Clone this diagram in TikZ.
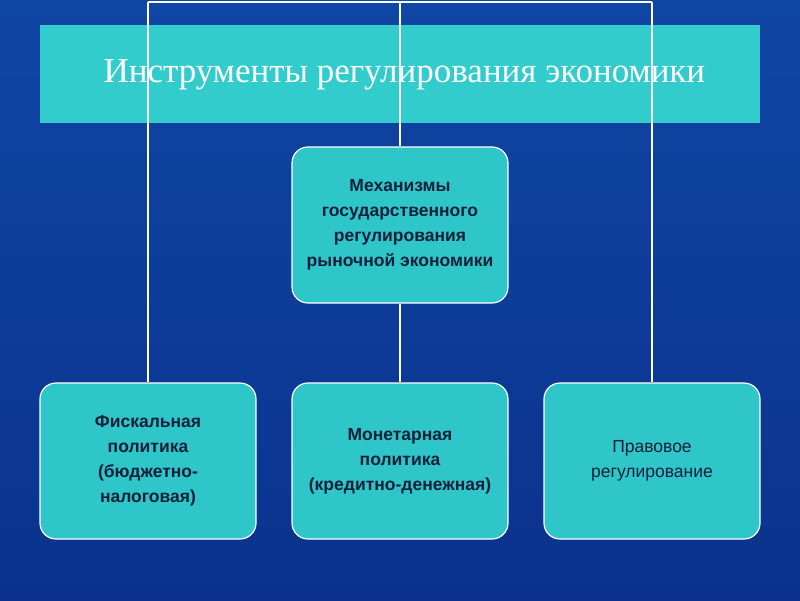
\documentclass[tikz,border=0pt]{standalone}
\usepackage{fontspec}
\setmainfont{Liberation Sans}
\newfontfamily\titlefont{Liberation Serif}
\begin{document}
\begin{tikzpicture}[x=1pt,y=-1pt,
  box/.style={draw=white,line width=1.2pt,fill=boxc,rounded corners=16pt,minimum width=216pt,minimum height=156pt,align=center,text=txtc,font=\bfseries\fontsize{17.5}{25}\selectfont},
  wline/.style={draw=white,line width=1.3pt}]
\definecolor{boxc}{HTML}{2EC6C8}
\definecolor{txtc}{HTML}{10203A}
\definecolor{banc}{HTML}{33CCCC}
\useasboundingbox (0,0) rectangle (800,600);
\shade[top color={rgb,255:red,16;green,70;blue,165},middle color={rgb,255:red,36;green,125;blue,225},bottom color={rgb,255:red,10;green,50;blue,140}] (0,0) rectangle (800,600);
\fill[banc] (40,25) rectangle (760,123);
\node[text=white,font=\titlefont\fontsize{35}{40}\selectfont,anchor=west] (title) at (100,75) {Инструменты регулирования экономики};
\coordinate (tl) at (148,2); \coordinate (tm) at (400,2); \coordinate (tr) at (652,2);
\node[box] (c) at (400,225) {Механизмы\\государственного\\регулирования\\рыночной экономики};
\node[box] (l) at (148,461) {Фискальная\\политика\\(бюджетно-\\налоговая)};
\node[box] (m) at (400,461) {Монетарная\\политика\\(кредитно-денежная)};
\node[box,font=\fontsize{17.5}{25}\selectfont] (r) at (652,461) {Правовое\\регулирование};
\draw[wline] (tl) -- (tr);
\draw[wline] (tl) -- (l.north);
\draw[wline] (tr) -- (r.north);
\draw[wline] (tm) -- (c.north);
\draw[wline] (c.south) -- (m.north);
\end{tikzpicture}
\end{document}
